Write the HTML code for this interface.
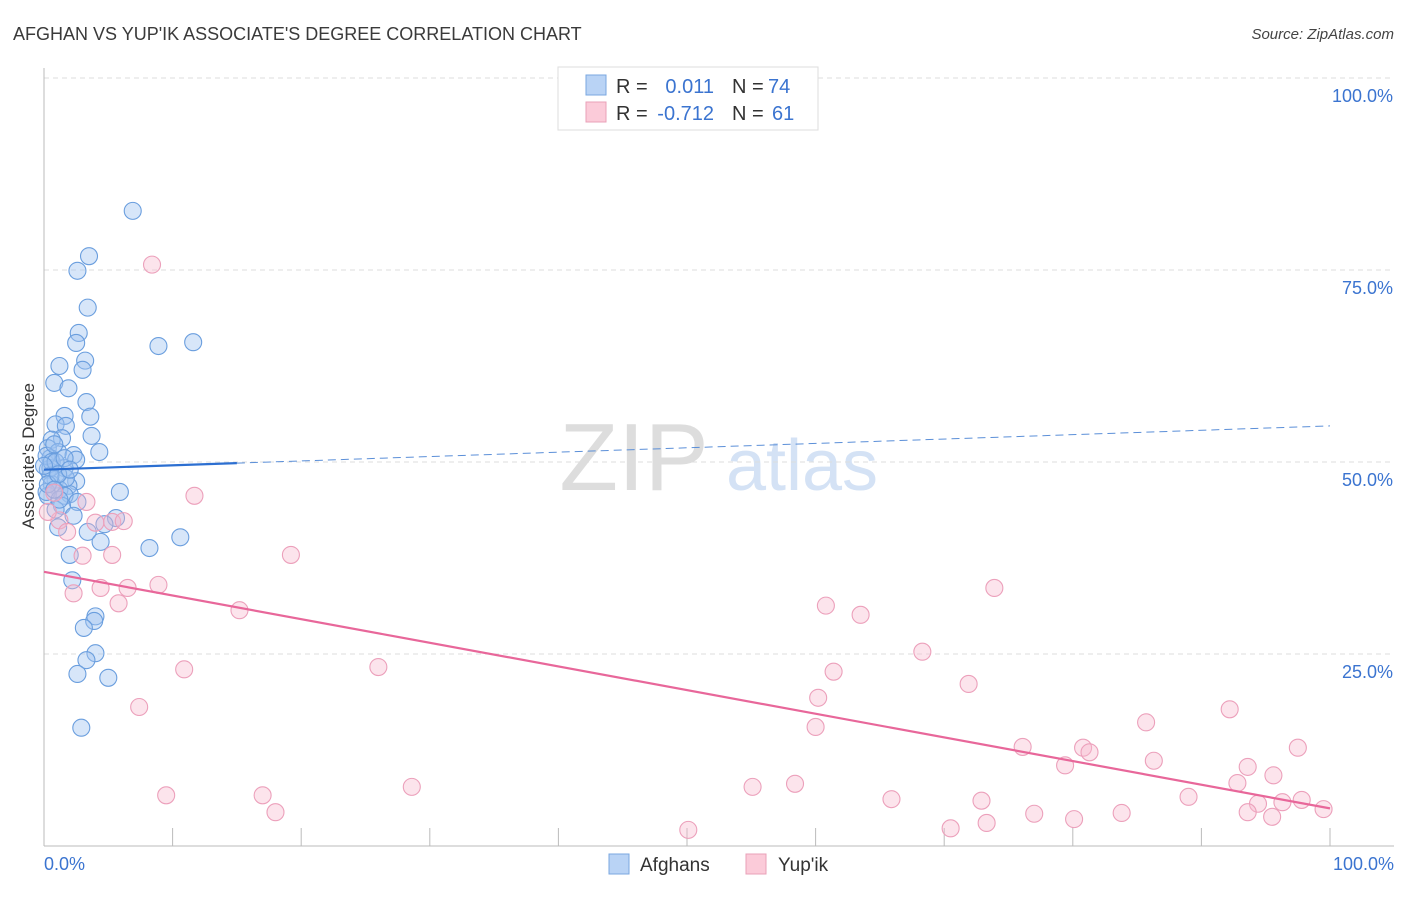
<!DOCTYPE html>
<html><head><meta charset="utf-8"><style>
body{margin:0;background:#fff;font-family:"Liberation Sans",sans-serif}
svg text{font-family:"Liberation Sans",sans-serif}
</style></head><body>
<svg id="chart" width="1406" height="892" xmlns="http://www.w3.org/2000/svg">
<text x="13" y="40" font-size="18" fill="#3a3a3a">AFGHAN VS YUP'IK ASSOCIATE'S DEGREE CORRELATION CHART</text>
<text x="1394" y="39" font-size="15" fill="#444" text-anchor="end" font-style="italic">Source: ZipAtlas.com</text>
<g>
<text x="634" y="490" font-size="96" fill="#ddd" text-anchor="middle" font-family="Liberation Serif">ZIP</text>
<text x="802" y="490" font-size="72" fill="#d4e2f5" text-anchor="middle">atlas</text>
</g>
<g id="grid"></g>
<g id="axes"></g>
<g id="pts"></g>
<g id="trends"></g>
<g>
<rect x="558" y="67" width="260" height="63" fill="#fff" stroke="#ddd"/>
<rect x="586" y="75" width="20" height="20" fill="#b9d3f5" stroke="#7aa7e0"/>
<rect x="586" y="102" width="20" height="20" fill="#fbcbd9" stroke="#eaa0b8"/>
<text x="616" y="93" font-size="20" fill="#333">R =</text>
<text x="714" y="93" font-size="20" fill="#3b74d0" text-anchor="end">0.011</text>
<text x="732" y="93" font-size="20" fill="#333">N =</text>
<text x="768" y="93" font-size="20" fill="#3b74d0">74</text>
<text x="616" y="120" font-size="20" fill="#333">R =</text>
<text x="714" y="120" font-size="20" fill="#3b74d0" text-anchor="end">-0.712</text>
<text x="732" y="120" font-size="20" fill="#333">N =</text>
<text x="772" y="120" font-size="20" fill="#3b74d0">61</text>
</g>
<g>
<rect x="609" y="854" width="20" height="20" fill="#b9d3f5" stroke="#7aa7e0"/>
<text x="640" y="871" font-size="19" fill="#333">Afghans</text>
<rect x="746" y="854" width="20" height="20" fill="#fbcbd9" stroke="#eaa0b8"/>
<text x="778" y="871" font-size="19" fill="#333">Yup'ik</text>
</g>
<text transform="translate(34,456) rotate(-90)" font-size="17" fill="#333" text-anchor="middle">Associate's Degree</text>
</svg>
<script>
const yTicks=[25,50,75,100];
const yTickLabels=["25.0%","50.0%","75.0%","100.0%"];
const xTickLabels=["0.0%","100.0%"];
const afghanX=[6.9,3.5,2.6,3.4,2.7,2.5,8.9,11.6,3.2,1.2,3.0,0.8,1.9,3.3,1.6,3.6,0.9,1.7,3.7,1.4,0.6,0.3,1.1,2.3,4.3,0.5,2.5,1.6,0.3,0.9,2.5,0.6,1.9,1.2,2.0,0.3,5.9,1.6,2.6,1.4,0.9,2.3,5.6,4.7,1.1,3.4,4.4,8.2,10.6,2.0,2.2,4.0,3.9,3.1,4.0,3.3,2.6,5.0,2.9,0.5,0.2,0.6,0.2,1.2,1.7,0.8,0.5,0.9,1.6,0.3,0.0,1.1,2.0,0.8];
const afghanY=[82.7,76.8,74.9,70.1,66.8,65.5,65.1,65.6,63.2,62.5,62.0,60.3,59.6,57.8,56.0,55.9,54.9,54.7,53.4,53.1,52.9,51.8,51.3,50.9,51.3,50.5,50.3,49.2,49.0,47.7,47.5,47.1,46.9,46.4,45.8,45.6,46.1,45.6,44.8,44.3,43.8,43.0,42.7,41.9,41.5,40.9,39.6,38.8,40.2,37.9,34.6,29.9,29.3,28.4,25.1,24.2,22.4,21.9,15.4,49.2,50.8,50.0,46.1,45.1,47.9,52.3,48.2,50.0,50.5,47.1,49.5,48.4,49.0,46.4];
const yupikX=[8.4,3.3,11.7,4.0,5.3,6.2,1.2,1.8,3.0,5.3,19.2,2.3,4.4,6.5,8.9,5.8,15.2,73.9,60.8,63.5,68.3,10.9,26.0,61.4,71.9,7.4,60.2,85.7,92.2,60.0,76.1,80.8,81.3,97.5,86.3,79.4,93.6,95.6,92.8,9.5,17.0,28.6,55.1,58.4,89.0,65.9,72.9,18.0,77.0,83.8,94.4,96.3,97.8,99.5,93.6,95.5,73.3,80.1,50.1,70.5,0.8,0.3];
const yupikY=[75.7,44.8,45.6,42.1,42.2,42.3,42.4,40.9,37.8,37.9,37.9,32.9,33.6,33.6,34.0,31.6,30.7,33.6,31.3,30.1,25.3,23.0,23.3,22.7,21.1,18.1,19.3,16.1,17.8,15.5,12.9,12.8,12.2,12.8,11.1,10.5,10.3,9.2,8.2,6.6,6.6,7.7,7.7,8.1,6.4,6.1,5.9,4.4,4.2,4.3,5.5,5.7,6.0,4.8,4.4,3.8,3.0,3.5,2.1,2.3,46.0,43.5];
const afghanTrend=[49.0,54.7];
const afghanSolidEnd=15;
const yupikTrend=[35.7,4.9];

const NS="http://www.w3.org/2000/svg";
const X=v=>44+v*12.86;
const Y=v=>846-v*7.68;
function mk(tag,attrs,parent){const e=document.createElementNS(NS,tag);for(const k in attrs)e.setAttribute(k,attrs[k]);document.getElementById(parent).appendChild(e);return e;}
yTicks.forEach((t,i)=>{
  const g=mk('line',{x1:44,x2:1394,y1:Y(t),y2:Y(t),stroke:'#ddd','stroke-dasharray':'5,4'},'grid');
  
  
  const tx=mk('text',{x:1393,y:Y(t)+24,'font-size':18,fill:'#3b74d0','text-anchor':'end'},'axes');
  tx.textContent=yTickLabels[i];
  
  
});
const ax=mk('line',{x1:44,x2:44,y1:68,y2:846,stroke:'#bbb'},'axes');


const bx=mk('line',{x1:44,x2:1394,y1:846,y2:846,stroke:'#bbb'},'axes');


for(let i=1;i<=10;i++){
  const t=mk('line',{x1:X(i*10),x2:X(i*10),y1:828,y2:846,stroke:'#bbb'},'axes');
  
  
}
[[0,'start',44],[100,'end',1394]].forEach((d,i)=>{
  const t=mk('text',{x:d[2],y:870,'font-size':18,fill:'#3b74d0','text-anchor':d[1]},'axes');
  t.textContent=xTickLabels[i];
  
  
});
afghanX.forEach((v,i)=>{
  const c=mk('circle',{cx:X(v),cy:Y(afghanY[i]),r:8.5,fill:'rgba(160,196,240,0.42)',stroke:'#6a9ede','stroke-width':1.1},'pts');
  
  
});
yupikX.forEach((v,i)=>{
  const c=mk('circle',{cx:X(v),cy:Y(yupikY[i]),r:8.5,fill:'rgba(248,184,204,0.38)',stroke:'#eca0bb','stroke-width':1.1},'pts');
  
  
});
const at=v=>afghanTrend[0]+(afghanTrend[1]-afghanTrend[0])*v/100;
let l=mk('line',{x1:X(0),y1:Y(at(0)),x2:X(afghanSolidEnd),y2:Y(at(afghanSolidEnd)),stroke:'#2c6fd1','stroke-width':2.2},'trends');


l=mk('line',{x1:X(afghanSolidEnd),y1:Y(at(afghanSolidEnd)),x2:X(100),y2:Y(at(100)),stroke:'#5b8fd8','stroke-width':1,'stroke-dasharray':'8,5'},'trends');


l=mk('line',{x1:X(0),y1:Y(yupikTrend[0]),x2:X(100),y2:Y(yupikTrend[1]),stroke:'#e8679a','stroke-width':2.2},'trends');


</script>
</body></html>
